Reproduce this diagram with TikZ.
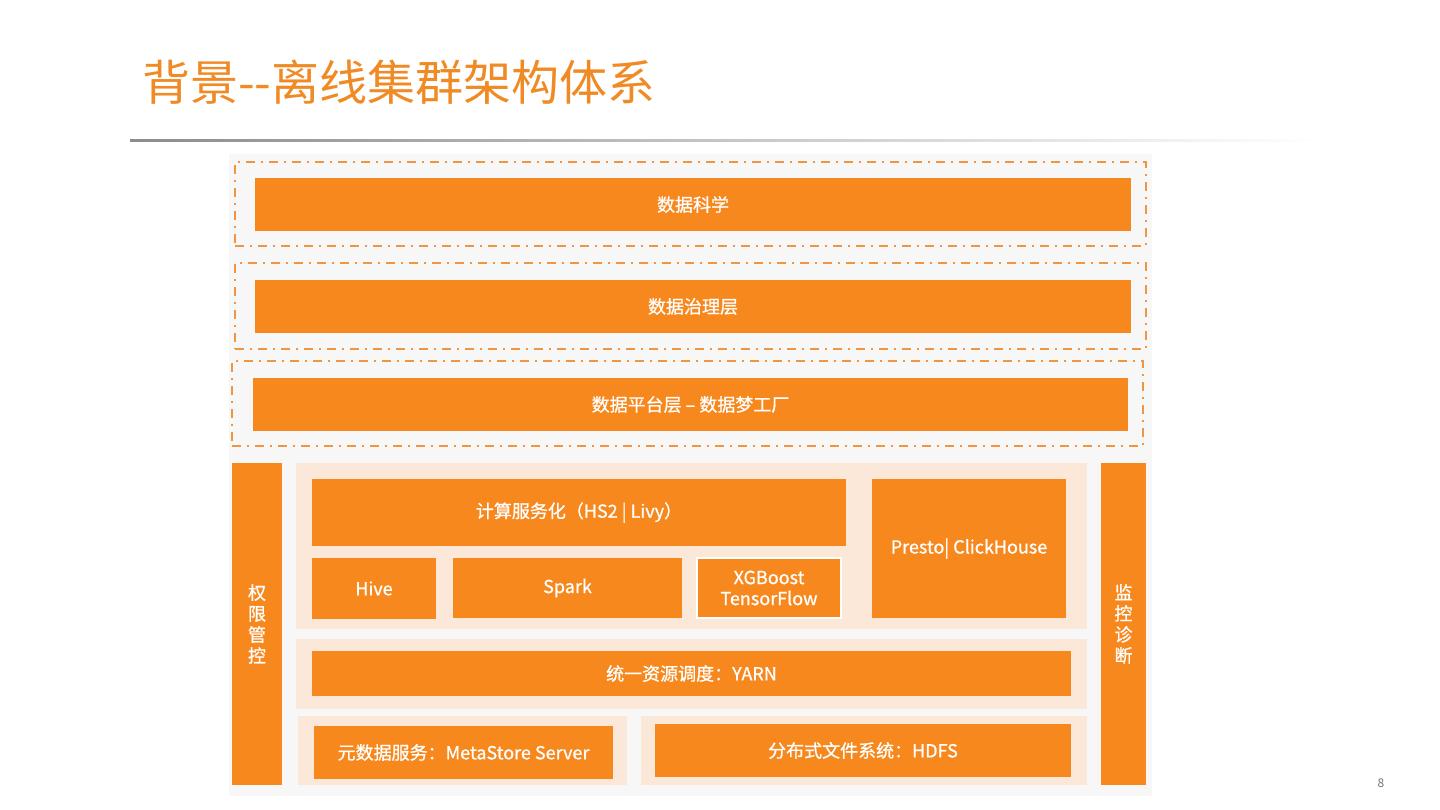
\documentclass[tikz,border=0pt]{standalone}
\usepackage{fontspec}
\newfontfamily\cjk{Noto Sans CJK SC}
\newfontfamily\cjkbar[FakeBold=0.8]{Noto Sans CJK SC}
\usepackage{tikz}
\usetikzlibrary{positioning}
\definecolor{brandorange}{RGB}{247,136,29}
\definecolor{titleorange}{RGB}{240,138,36}
\definecolor{dashorange}{RGB}{240,150,66}
\definecolor{peach}{RGB}{252,232,216}
\definecolor{panelgray}{RGB}{247,247,247}

\begin{document}
\begin{tikzpicture}[
  x=1pt, y=-1pt,
  every node/.style={font=\cjk\fontsize{18}{21}\selectfont, inner sep=0pt, outer sep=0pt},
  bar/.style={fill=brandorange, text=white, align=center,
    font=\cjkbar\fontsize{18}{21}\selectfont},
  panel/.style={fill=peach},
  dashbox/.style={draw=dashorange, line width=2pt,
    dash pattern=on 9pt off 6pt on 2pt off 6pt}
]
\useasboundingbox (0,0) rectangle (1440,810);
\fill[white] (0,0) rectangle (1440,810);

% 标题
\node[anchor=west, text=titleorange, font=\cjk\fontsize{48}{52}\selectfont]
  (title) at (142,82) {背景--离线集群架构体系};
\shade[left color=black!45, right color=white] (130,140) rectangle (1320,142);

% 底板
\node[fill=panelgray, minimum width=923, minimum height=641] (base) at (690,475) {};

% 上三层
\node[dashbox, minimum width=911, minimum height=84] (scibox) at (690.5,204) {};
\node[bar, minimum width=876, minimum height=53] (sci) at (693,204.5) {数据科学};

\node[dashbox, minimum width=911, minimum height=86] (govbox) at (690.5,306) {};
\node[bar, minimum width=876, minimum height=53] (gov) at (693,306.5) {数据治理层};

\node[dashbox, minimum width=911, minimum height=85] (platbox) at (687.5,403.5) {};
\node[bar, minimum width=875, minimum height=53] (plat) at (690.5,404.5) {数据平台层 – 数据梦工厂};

% 两侧
\node[bar, minimum width=50, minimum height=322] (auth) at (257,624) {权\\限\\管\\控};
\node[bar, minimum width=45, minimum height=322] (mon) at (1123.5,624) {监\\控\\诊\\断};

% 计算层
\node[panel, minimum width=791, minimum height=166] (compute) at (691.5,546) {};
\node[bar, minimum width=534, minimum height=67] (svc) at (579,512.5) {计算服务化（HS2 | Livy）};
\node[bar, minimum width=124, minimum height=61] (hive) at (374,588.5) {Hive};
\node[bar, minimum width=229, minimum height=60] (spark) at (567.5,588) {Spark};
\node[bar, draw=white, line width=1.5pt, minimum width=144, minimum height=60]
  (ml) at (769,588) {XGBoost\\TensorFlow};
\node[bar, minimum width=194, minimum height=139] (olap) at (969,548.5) {Presto| ClickHouse};

% 资源层
\node[panel, minimum width=791, minimum height=70] (resource) at (691.5,674) {};
\node[bar, minimum width=759, minimum height=45] (yarn) at (691.5,673.5) {统一资源调度：YARN};

% 存储层
\node[panel, minimum width=329, minimum height=69] (metapanel) at (462.5,750.5) {};
\node[bar, minimum width=299, minimum height=53] (meta) at (463.5,752.5) {元数据服务：MetaStore Server};
\node[panel, minimum width=446, minimum height=69] (hdfspanel) at (864,750.5) {};
\node[bar, minimum width=416, minimum height=53] (hdfs) at (863,750.5) {分布式文件系统：HDFS};

% 页码
\node[text=black!55, font=\cjk\fontsize{12}{14}\selectfont] (page) at (1381,783) {8};
\end{tikzpicture}
\end{document}
